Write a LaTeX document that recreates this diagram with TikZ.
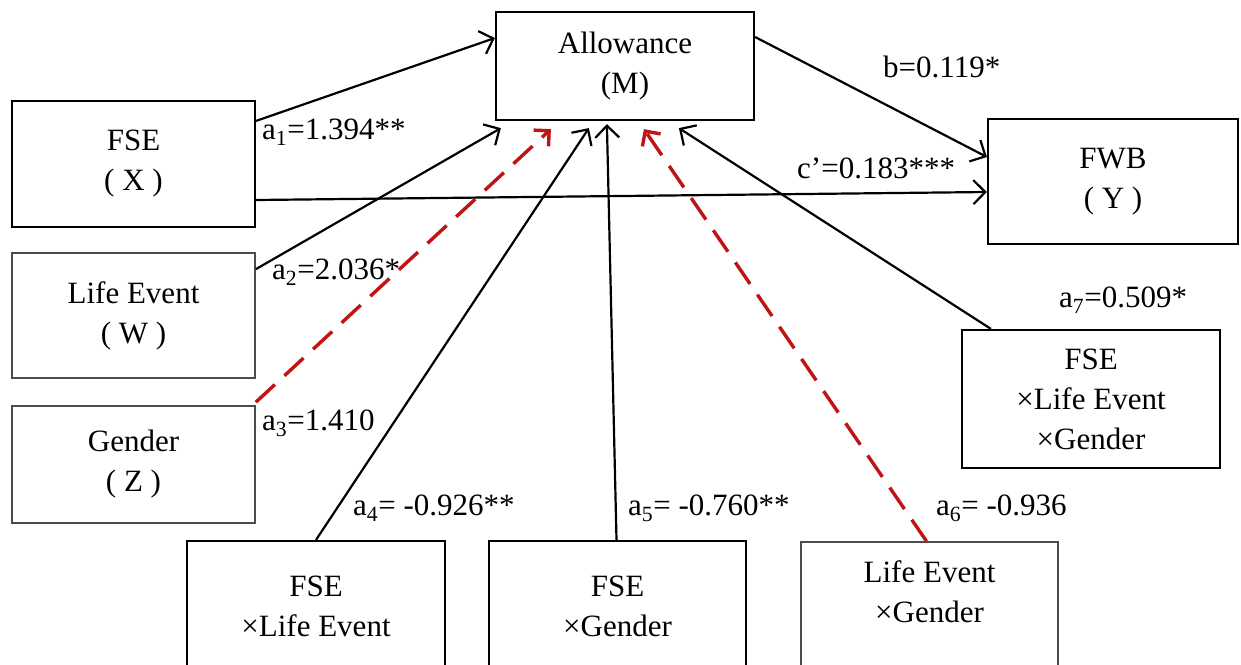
\documentclass[tikz,border=0pt]{standalone}
\usepackage{fontspec}
\setmainfont{Liberation Serif}
\usetikzlibrary{arrows.meta}
\definecolor{dred}{RGB}{190,20,20}
\begin{document}
\begin{tikzpicture}[x=1pt,y=-1pt,
  box/.style={draw=black, line width=2.2pt, inner sep=0pt, align=center,
    font=\fontsize{31}{40}\selectfont},
  lite/.style={box, draw=black!70, line width=1.6pt},
  txt/.style={inner sep=0pt, align=center, font=\fontsize{31}{40}\selectfont},
  lbl/.style={anchor=west, inner sep=0pt, font=\fontsize{31}{36}\selectfont},
  arr/.style={line width=2.2pt, -{Straight Barb[length=12pt,width=24pt]}},
  rarr/.style={line width=3.4pt, draw=dred, dash pattern=on 26pt off 13pt,
    -{Straight Barb[length=11pt,width=22pt]}}
]
\clip (0,0) rectangle (1241,664);
\fill[white] (0,0) rectangle (1241,664);

% boxes
\node[box, minimum width=258pt, minimum height=108pt] (M) at (625,66) {Allowance\\(M)};
\node[box, minimum width=243pt, minimum height=126pt] (X) at (133.5,164) {FSE\\( X )};
\node[box, minimum width=250pt, minimum height=125pt] (Y) at (1113,181.5) {FWB\\( Y )};
\node[lite, minimum width=243pt, minimum height=125pt] (W) at (133.5,315.5) {Life Event\\( W )};
\node[lite, minimum width=243pt, minimum height=117pt] (Z) at (133.5,464.5) {Gender\\( Z )};
\node[box, minimum width=258pt, minimum height=138pt] (T) at (1091,399) {FSE\\×Life Event\\×Gender};
\node[box, minimum width=258pt, minimum height=160pt] (P) at (316,621) {};
\node[box, minimum width=257pt, minimum height=160pt] (Q) at (617.5,621) {};
\node[lite, minimum width=257pt, minimum height=160pt] (R) at (929.5,622) {};
\node[txt] (Pt) at (316,606) {FSE\\×Life Event};
\node[txt] (Qt) at (617.5,606) {FSE\\×Gender};
\node[txt] (Rt) at (929.5,592) {Life Event\\×Gender};

% connectors
\draw[arr] ([yshift=-21pt]X.north east) -- ([yshift=28pt]M.west);
\draw[arr] ([yshift=-17pt]W.north east) -- ([xshift=6pt,yshift=-7pt]M.south west);
\draw[rarr] ([yshift=3pt]Z.north east) -- ([xshift=56pt,yshift=-8pt]M.south west);
\draw[arr] (P.north) -- ([xshift=94pt,yshift=-7pt]M.south west);
\draw[arr] ([xshift=-1pt]Q.north) -- ([xshift=112pt,yshift=-3pt]M.south west);
\draw[rarr] ([xshift=-3pt]R.north) -- ([xshift=149pt,yshift=-8pt]M.south west);
\draw[arr] ([xshift=30pt]T.north west) -- ([xshift=184pt,yshift=-7pt]M.south west);
\draw[arr] ([yshift=29pt]M.east) -- ([yshift=24.5pt]Y.west);
\draw[arr] ([yshift=-36pt]X.east) -- ([yshift=-10.5pt]Y.west);

% labels
\node[lbl] (l1) at (262,132) {a\textsubscript{1}=1.394**};
\node[lbl] (l2) at (272,272) {a\textsubscript{2}=2.036*};
\node[lbl] (l3) at (262,423) {a\textsubscript{3}=1.410};
\node[lbl] (l4) at (353,508) {a\textsubscript{4}= -0.926**};
\node[lbl] (l5) at (628,508) {a\textsubscript{5}= -0.760**};
\node[lbl] (l6) at (936,508) {a\textsubscript{6}= -0.936};
\node[lbl] (l7) at (1059,300) {a\textsubscript{7}=0.509*};
\node[lbl] (lb) at (883,67) {b=0.119*};
\node[lbl] (lc) at (797,168) {c’=0.183***};
\end{tikzpicture}
\end{document}
